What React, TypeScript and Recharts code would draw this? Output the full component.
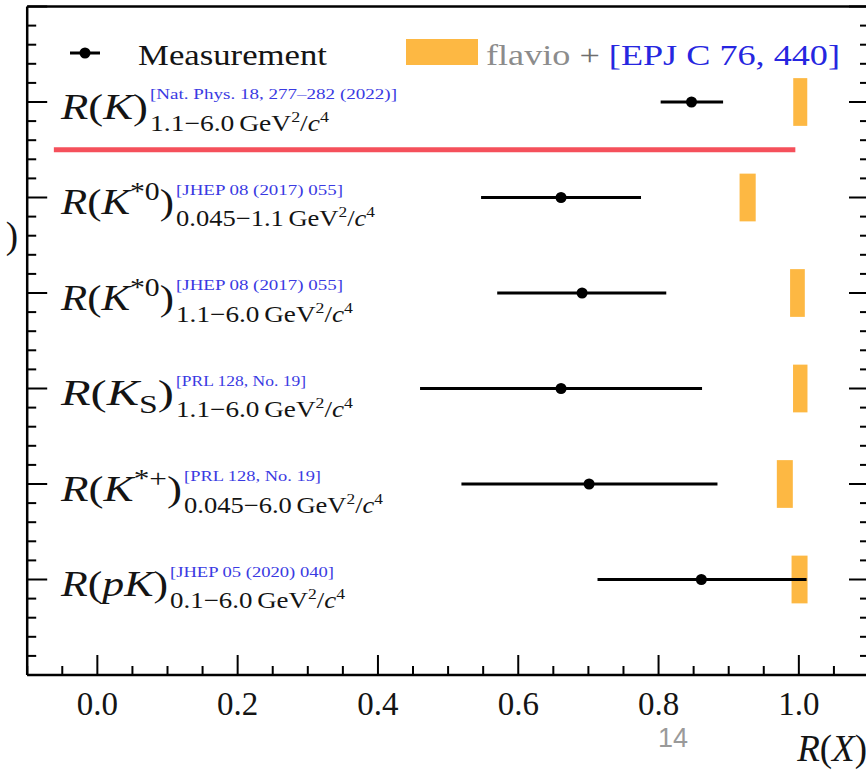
import React from 'react';
import {
  ComposedChart,
  Scatter,
  XAxis,
  YAxis,
  ErrorBar,
  ReferenceArea,
  ReferenceLine,
  Legend,
} from 'recharts';

// rows, top to bottom (y position on the category axis)
const rowPos = [6, 5, 4, 3, 2, 1];
const particleBase = ['K', 'K', 'K', 'K', 'K', 'pK'];
const particleSup = ['', '*0', '*0', '', '*+', ''];
const particleSub = ['', '', '', 'S', '', ''];
const refLabels = [
  '[Nat. Phys. 18, 277–282 (2022)]',
  '[JHEP 08 (2017) 055]',
  '[JHEP 08 (2017) 055]',
  '[PRL 128, No. 19]',
  '[PRL 128, No. 19]',
  '[JHEP 05 (2020) 040]',
];
const q2Ranges = ['1.1−6.0', '0.045−1.1', '1.1−6.0', '1.1−6.0', '0.045−6.0', '0.1−6.0'];

// measurements with asymmetric x errors
const measured = [0.847, 0.661, 0.691, 0.661, 0.701, 0.861];
const errLow = [0.044, 0.114, 0.121, 0.201, 0.182, 0.148];
const errHigh = [0.045, 0.114, 0.12, 0.201, 0.183, 0.15];

// SM predictions (flavio), drawn as boxes
const predicted = [1.002, 0.927, 0.998, 1.002, 0.98, 1.001];
const predHalfWidth = [0.01, 0.0115, 0.0105, 0.0103, 0.0114, 0.0114];
const predHalfHeight = 0.25;

// red separator under R(K)
const sepY = 5.5;
const sepFrom = -0.062;
const sepTo = 0.995;

const xMajorTicks = [0, 0.2, 0.4, 0.6, 0.8, 1.0];
const xTickLabels = ['0.0', '0.2', '0.4', '0.6', '0.8', '1.0'];
const xMinorTicks = [
  -0.1, -0.05, 0.05, 0.1, 0.15, 0.25, 0.3, 0.35, 0.45, 0.5, 0.55,
  0.65, 0.7, 0.75, 0.85, 0.9, 0.95, 1.05, 1.1,
];
const xTicks = [...xMinorTicks, ...xMajorTicks].sort((a, b) => a - b);
const yTicks = Array.from({ length: 36 }, (_, k) => Math.round(k * 2) / 10);

// text layout
const SERIF = "'Liberation Serif', 'Times New Roman', serif";
const INK = '#141414';
const BLUE = '#3a3ae2';
const ORANGE = '#fdb843';
const RED = '#f5505b';
const LABEL_X = 61;
const suffixX = [150, 176, 176, 176, 184, 170];
const refW = [247, 167, 167, 130, 137, 164];
const subW = [179, 199, 177, 177, 199, 175];

const W = 900;
const H = 772;

const near = (a: number, b: number) => Math.abs(a - b) < 1e-6;

const RowLabel = ({ i, y }: { i: number; y: number }) => {
  const sup = particleSup[i];
  const sub = particleSub[i];
  return (
    <g fontFamily={SERIF}>
      <text
        x={LABEL_X}
        y={y + 16.5}
        fontSize={36}
        fill={INK}
        textLength={suffixX[i] - LABEL_X - 2}
        lengthAdjust="spacingAndGlyphs"
      >
        <tspan fontStyle="italic">R</tspan>
        <tspan>(</tspan>
        <tspan fontStyle="italic">{particleBase[i]}</tspan>
        {sup && (
          <tspan fontSize={25} dy={-14}>
            {sup}
          </tspan>
        )}
        {sub && (
          <tspan fontSize={25} dy={8}>
            {sub}
          </tspan>
        )}
        <tspan dy={sup ? 14 : sub ? -8 : 0}>)</tspan>
      </text>
      <text
        x={suffixX[i]}
        y={y - 3}
        fontSize={15}
        fill={BLUE}
        textLength={refW[i]}
        lengthAdjust="spacingAndGlyphs"
      >
        {refLabels[i]}
      </text>
      <text
        x={suffixX[i]}
        y={y + 28.5}
        fontSize={23}
        fill={INK}
        textLength={subW[i]}
        lengthAdjust="spacingAndGlyphs"
      >
        {q2Ranges[i]}
        <tspan dx={4}>GeV</tspan>
        <tspan fontSize={15} dy={-9}>2</tspan>
        <tspan dy={9}>/</tspan>
        <tspan fontStyle="italic">c</tspan>
        <tspan fontSize={15} dy={-9}>4</tspan>
      </text>
    </g>
  );
};

const BottomTick = (props: any) => {
  const { x, y, payload } = props;
  const k = xMajorTicks.findIndex((m) => near(m, payload.value));
  return (
    <g>
      <line x1={x} x2={x} y1={y} y2={y - (k >= 0 ? 20 : 9)} stroke="#000" strokeWidth={2} />
      {k >= 0 && (
        <text x={x} y={y + 40} textAnchor="middle" fontSize={33} fontFamily={SERIF} fill={INK}>
          {xTickLabels[k]}
        </text>
      )}
    </g>
  );
};

const TopTick = (props: any) => {
  const { x, y, payload } = props;
  const major = xMajorTicks.some((m) => near(m, payload.value));
  return <line x1={x} x2={x} y1={y} y2={y + (major ? 20 : 9)} stroke="#000" strokeWidth={2} />;
};

const LeftTick = (props: any) => {
  const { x, y, payload } = props;
  const v = payload.value;
  const major = Number.isInteger(Math.round(v * 1e6) / 1e6);
  const i = rowPos.findIndex((r) => near(r, v));
  return (
    <g>
      <line x1={x} x2={x + (major ? 20 : 9)} y1={y} y2={y} stroke="#000" strokeWidth={2} />
      {i >= 0 && <RowLabel i={i} y={y} />}
    </g>
  );
};

const RightTick = (props: any) => {
  const { x, y, payload } = props;
  const major = Number.isInteger(Math.round(payload.value * 1e6) / 1e6);
  return <line x1={x} x2={x - (major ? 20 : 9)} y1={y} y2={y} stroke="#000" strokeWidth={2} />;
};

const XLabel = () => (
  <g>
    <text x={867} y={761} textAnchor="end" fontSize={37} fontFamily={SERIF} fill={INK}>
      <tspan fontStyle="italic">R</tspan>(<tspan fontStyle="italic">X</tspan>)
    </text>
    <text x={673} y={747} textAnchor="middle" fontSize={27} fontFamily="'Liberation Sans', Arial, sans-serif" fill="#9a9a9a">
      14
    </text>
  </g>
);

// y label sits off the left edge, only its closing parenthesis shows
const YLabel = () => (
  <text x={18} y={248} textAnchor="end" fontSize={37} fontFamily={SERIF} fill={INK}>
    <tspan fontStyle="italic">R</tspan>(<tspan fontStyle="italic">X</tspan>
    <tspan dx={10}>)</tspan>
  </text>
);

const LegendContent = () => (
  <svg width={866} height={90} style={{ display: 'block' }} fontFamily={SERIF}>
    <line x1={70} x2={100} y1={53} y2={53} stroke="#000" strokeWidth={3} />
    <circle cx={85} cy={53} r={5.5} fill="#000" />
    <text x={138} y={65} fontSize={30} fill={INK} textLength={189} lengthAdjust="spacingAndGlyphs">
      Measurement
    </text>
    <rect x={406} y={39} width={72} height={26} fill={ORANGE} />
    <text x={486} y={65} fontSize={30} textLength={354} lengthAdjust="spacingAndGlyphs">
      <tspan fill="#8c8c8c">flavio</tspan>
      <tspan fill="#6e6e6e"> + </tspan>
      <tspan fill="#2626e0">[EPJ C 76, 440]</tspan>
    </text>
  </svg>
);

const App = () => {
  const data = measured.map((x, i) => ({ x, y: rowPos[i], err: [errLow[i], errHigh[i]] }));
  const axisLine = { stroke: '#000', strokeWidth: 2.5 };

  return (
    <div
      style={{
        position: 'fixed',
        left: 0,
        top: 0,
        width: 866,
        height: 772,
        overflow: 'hidden',
        background: '#fff',
      }}
    >
      <ComposedChart width={W} height={H} margin={{ top: 5.5, right: 30, bottom: 96, left: 26.2 }}>
        <XAxis
          xAxisId="b"
          type="number"
          dataKey="x"
          domain={[-0.1, 1.1]}
          allowDataOverflow
          ticks={xTicks}
          interval={0}
          tickSize={0}
          tickMargin={0}
          tickLine={false}
          tick={<BottomTick />}
          axisLine={axisLine}
          height={1}
          label={<XLabel />}
        />
        <XAxis
          xAxisId="t"
          orientation="top"
          type="number"
          domain={[-0.1, 1.1]}
          allowDataOverflow
          ticks={xTicks}
          interval={0}
          tickSize={0}
          tickMargin={0}
          tickLine={false}
          tick={<TopTick />}
          axisLine={axisLine}
          height={1}
        />
        <YAxis
          yAxisId="l"
          type="number"
          dataKey="y"
          domain={[0, 7]}
          allowDataOverflow
          ticks={yTicks}
          interval={0}
          tickSize={0}
          tickMargin={0}
          tickLine={false}
          tick={<LeftTick />}
          axisLine={axisLine}
          width={1}
          label={<YLabel />}
        />
        <YAxis
          yAxisId="r"
          orientation="right"
          type="number"
          domain={[0, 7]}
          allowDataOverflow
          ticks={yTicks}
          interval={0}
          tickSize={0}
          tickMargin={0}
          tickLine={false}
          tick={<RightTick />}
          axisLine={axisLine}
          width={1}
        />
        {predicted.map((p, i) => (
          <ReferenceArea
            key={`pred-${i}`}
            xAxisId="b"
            yAxisId="l"
            x1={p - predHalfWidth[i]}
            x2={p + predHalfWidth[i]}
            y1={rowPos[i] - predHalfHeight}
            y2={rowPos[i] + predHalfHeight}
            fill={ORANGE}
            fillOpacity={1}
            stroke="none"
          />
        ))}
        <ReferenceLine
          xAxisId="b"
          yAxisId="l"
          segment={[
            { x: sepFrom, y: sepY },
            { x: sepTo, y: sepY },
          ]}
          stroke={RED}
          strokeWidth={5}
        />
        <Scatter
          xAxisId="b"
          yAxisId="l"
          data={data}
          isAnimationActive={false}
          shape={(p: any) => <circle cx={p.cx} cy={p.cy} r={5.5} fill="#000" />}
        >
          <ErrorBar
            dataKey="err"
            direction="x"
            width={0}
            stroke="#000"
            strokeWidth={3}
            isAnimationActive={false}
          />
        </Scatter>
        <Legend
          layout="vertical"
          align="center"
          verticalAlign="middle"
          content={LegendContent}
          wrapperStyle={{ position: 'absolute', left: 0, top: 0, width: 866, height: 90, margin: 0 }}
        />
      </ComposedChart>
    </div>
  );
};

export default App;
